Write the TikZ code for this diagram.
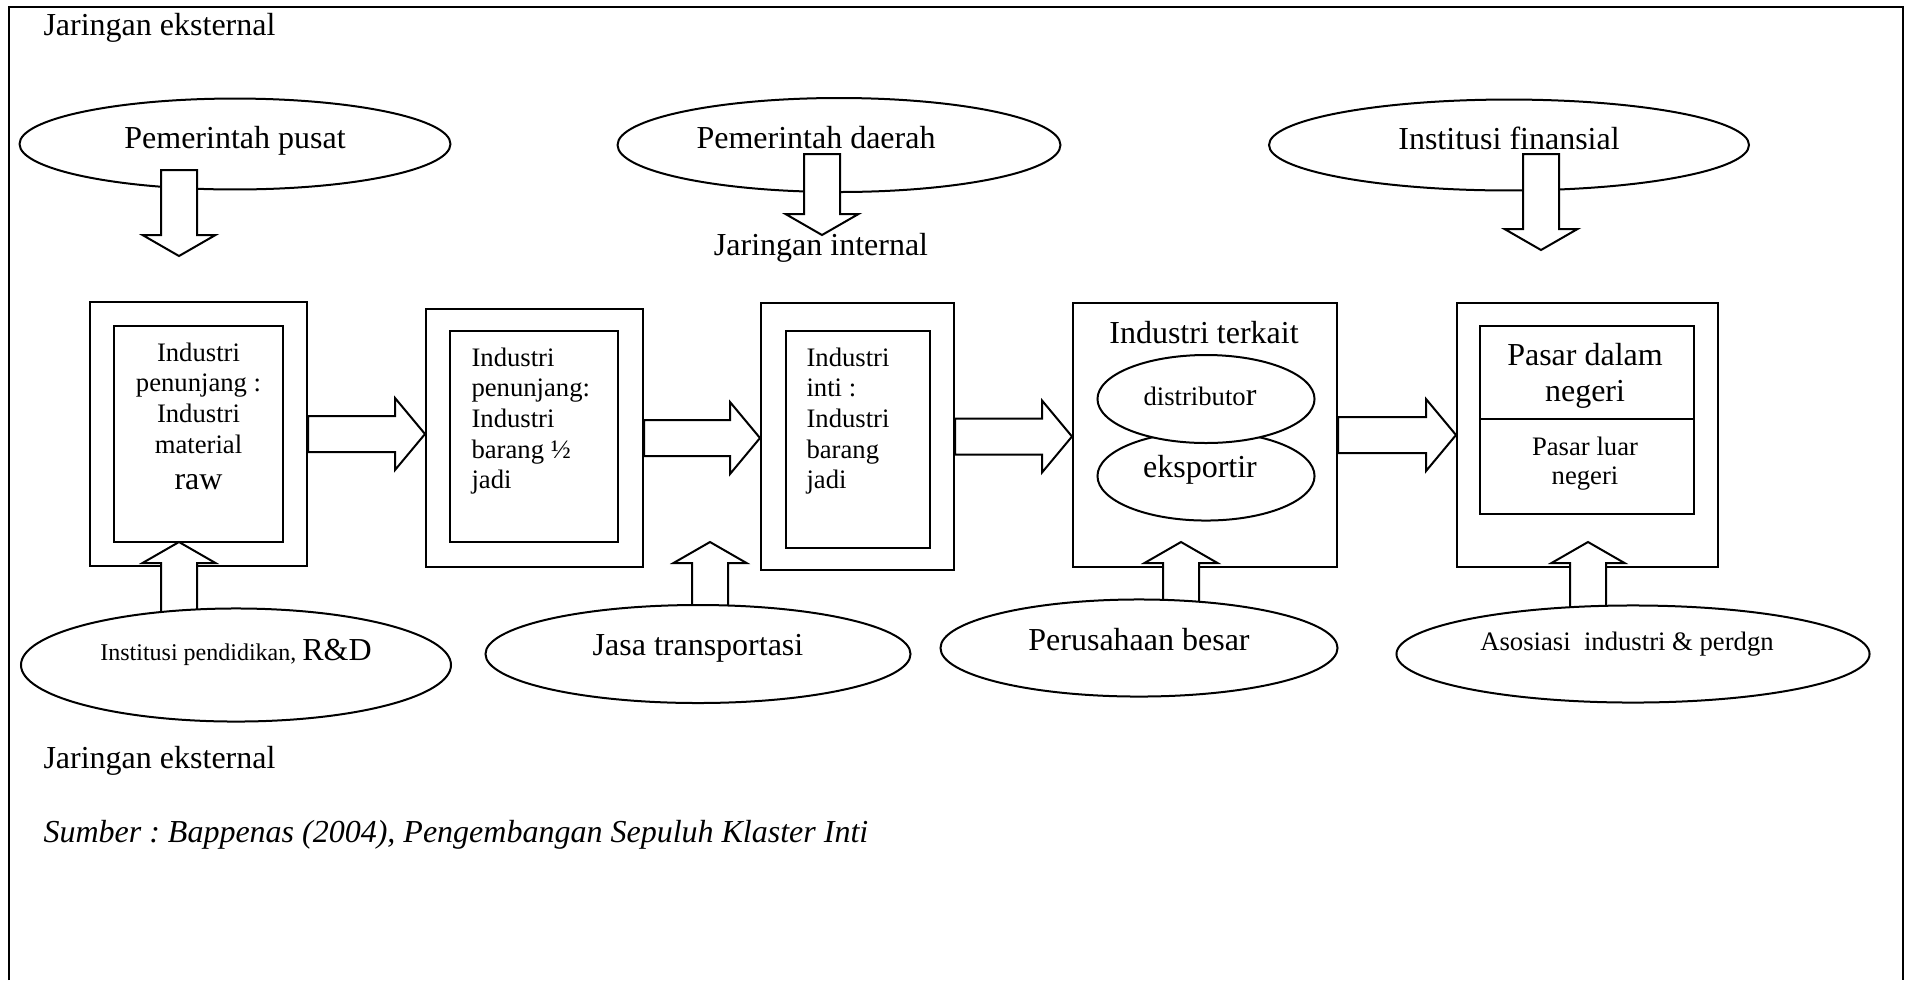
\documentclass[tikz,border=0pt]{standalone}
\usepackage{fontspec}
\setmainfont{Liberation Serif}
\frenchspacing
\usetikzlibrary{calc,shapes.geometric}
\tikzset{
  boxn/.style={draw, line width=0.75pt, fill=white, inner sep=0pt},
  elln/.style={draw, ellipse, line width=0.75pt, fill=white, inner sep=0pt},
  blockarrow/.style={draw, line width=0.75pt, fill=white, line join=miter},
  twelve/.style={font=\fontsize{12}{13.8}\selectfont, inner sep=0pt},
  ten/.style={font=\fontsize{10}{11.5}\selectfont, inner sep=0pt},
}
\newcommand{\hblockarrow}[2]{\draw[blockarrow] let \p1=(#1), \p2=(#2) in
  (\x1,\y1+6.75pt) -- (\x2-11.25pt,\y1+6.75pt) -- (\x2-11.25pt,\y1+13.5pt) -- (\x2,\y1)
  -- (\x2-11.25pt,\y1-13.5pt) -- (\x2-11.25pt,\y1-6.75pt) -- (\x1,\y1-6.75pt) -- cycle;}
\newcommand{\dblockarrow}[2]{\draw[blockarrow] let \p1=(#1), \p2=(#2) in
  (\x1-6.75pt,\y1) -- (\x1-6.75pt,\y2+7.875pt) -- (\x1-13.69pt,\y2+7.875pt) -- (\x1,\y2)
  -- (\x1+13.69pt,\y2+7.875pt) -- (\x1+6.75pt,\y2+7.875pt) -- (\x1+6.75pt,\y1) -- cycle;}
\newcommand{\ublockarrow}[2]{\draw[blockarrow] let \p1=(#1), \p2=(#2) in
  (\x1-6.75pt,\y1) -- (\x1-6.75pt,\y2-7.875pt) -- (\x1-13.69pt,\y2-7.875pt) -- (\x1,\y2)
  -- (\x1+13.69pt,\y2-7.875pt) -- (\x1+6.75pt,\y2-7.875pt) -- (\x1+6.75pt,\y1) -- cycle;}
\begin{document}
\begin{tikzpicture}[x=0.375pt,y=-0.375pt]
\path[use as bounding box, fill=white] (0,0) rectangle (1912,980);
% frame
\draw[line width=0.6pt] (9,980) -- (9,7) -- (1903,7) -- (1903,980);

% boxes
\node[boxn, minimum width=81.375pt, minimum height=99pt] (b1o) at (198.5,434) {};
\node[boxn, minimum width=63.375pt, minimum height=81pt] (b1i) at (198.5,434) {};
\node[ten, align=center, anchor=north] (b1t) at (198.5,342)
  {Industri\\penunjang :\\Industri\\material\\[2pt]{\fontsize{12}{13.8}\selectfont raw}};

\node[boxn, minimum width=81.375pt, minimum height=96.75pt] (b2o) at (534.5,438) {};
\node[boxn, minimum width=63pt, minimum height=79.125pt] (b2i) at (534,436.5) {};
\node[ten, align=left, anchor=north west] (b2t) at (471,347)
  {Industri\\penunjang:\\Industri\\barang ½\\jadi};

\node[boxn, minimum width=72.375pt, minimum height=100.125pt] (b3o) at (857.5,436.5) {};
\node[boxn, minimum width=54pt, minimum height=81.375pt] (b3i) at (858,439.5) {};
\node[ten, align=left, anchor=north west] (b3t) at (806,347)
  {Industri\\inti :\\Industri\\barang\\jadi};

\node[boxn, minimum width=99pt, minimum height=99pt] (b4o) at (1205,435) {};
\node[twelve, anchor=base] (b4t) at (1204,343) {Industri terkait};
\node[elln, minimum width=81.4pt, minimum height=33.4pt] (eks) at (1206,476) {};
\node[twelve, anchor=base] (ekst) at (1200,477) {eksportir};
\node[elln, minimum width=81.4pt, minimum height=33pt] (dis) at (1206,399) {};
\node[ten, anchor=base] (dist) at (1200,405) {distributo{\fontsize{12}{13.8}\selectfont r}};

\node[boxn, minimum width=97.875pt, minimum height=99pt] (b5o) at (1587.5,435) {};
\node[boxn, minimum width=80.25pt, minimum height=34.875pt] (b5a) at (1587,372.5) {};
\node[boxn, minimum width=80.25pt, minimum height=35.625pt] (b5b) at (1587,466.5) {};
\node[inner sep=0pt, align=center, anchor=north, font=\fontsize{12}{13.3}\selectfont] (b5at) at (1585,343) {Pasar dalam\\negeri};
\node[inner sep=0pt, align=center, anchor=north, font=\fontsize{10}{11}\selectfont] (b5bt) at (1585,436) {Pasar luar\\negeri};

% horizontal block arrows
\hblockarrow{b1o.east}{b2o.west}
\hblockarrow{b2o.east}{b3o.west}
\hblockarrow{b3o.east}{b4o.west}
\hblockarrow{b4o.east}{b5o.west}

% up block arrows
\coordinate (u1s) at (179,618);  \coordinate (u1e) at (179,542);
\coordinate (u2s) at (710,612);  \coordinate (u2e) at (710,542);
\coordinate (u4s) at (1181,606); \coordinate (u4e) at (1181,542);
\coordinate (u5s) at (1588,614); \coordinate (u5e) at (1588,542);
\ublockarrow{u1s}{u1e}
\ublockarrow{u2s}{u2e}
\ublockarrow{u4s}{u4e}
\ublockarrow{u5s}{u5e}

% bottom ellipses
\node[elln, minimum width=161.25pt, minimum height=42.4pt] (eb1) at (236,665) {};
\node[anchor=base, inner sep=0pt] (eb1t) at (236,660)
  {\fontsize{9}{11}\selectfont Institusi pendidikan, \fontsize{12}{14}\selectfont R\&D};
\node[elln, minimum width=159.4pt, minimum height=36.75pt] (eb2) at (698,654) {};
\node[twelve, anchor=base] (eb2t) at (698,655) {Jasa transportasi};
\node[elln, minimum width=148.9pt, minimum height=36.4pt] (eb3) at (1139,648) {};
\node[twelve, anchor=base] (eb3t) at (1139,650) {Perusahaan besar};
\node[elln, minimum width=177.4pt, minimum height=36.4pt] (eb4) at (1633,654) {};
\node[ten, anchor=base] (eb4t) at (1627,650) {Asosiasi\ \ industri \& perdgn};

% top ellipses
\node[elln, minimum width=161.6pt, minimum height=34.1pt] (et1) at (235,144) {};
\node[twelve, anchor=base] (et1t) at (235,148) {Pemerintah pusat};
\node[elln, minimum width=166.1pt, minimum height=35.25pt] (et2) at (839,145) {};
\node[twelve, anchor=base] (et2t) at (816,148) {Pemerintah daerah};
\node[elln, minimum width=180pt, minimum height=34.1pt] (et3) at (1509,145) {};
\node[twelve, anchor=base] (et3t) at (1509,149) {Institusi finansial};

% down block arrows
\coordinate (d1s) at (179,170);  \coordinate (d1e) at (179,256);
\coordinate (d2s) at (822,154);  \coordinate (d2e) at (822,235);
\coordinate (d3s) at (1541,154); \coordinate (d3e) at (1541,250);
\dblockarrow{d1s}{d1e}
\dblockarrow{d2s}{d2e}
\dblockarrow{d3s}{d3e}

% labels
\node[twelve, anchor=base] (jint) at (821,255) {Jaringan internal};
\node[twelve, anchor=base west] (jext1) at (43,35) {Jaringan eksternal};
\node[twelve, anchor=base west] (jext2) at (43,768) {Jaringan eksternal};
\node[twelve, anchor=base west, font=\fontsize{12}{13.8}\selectfont\itshape] (src) at (43,842)
  {Sumber : Bappenas (2004), Pengembangan Sepuluh Klaster Inti};
\end{tikzpicture}
\end{document}
